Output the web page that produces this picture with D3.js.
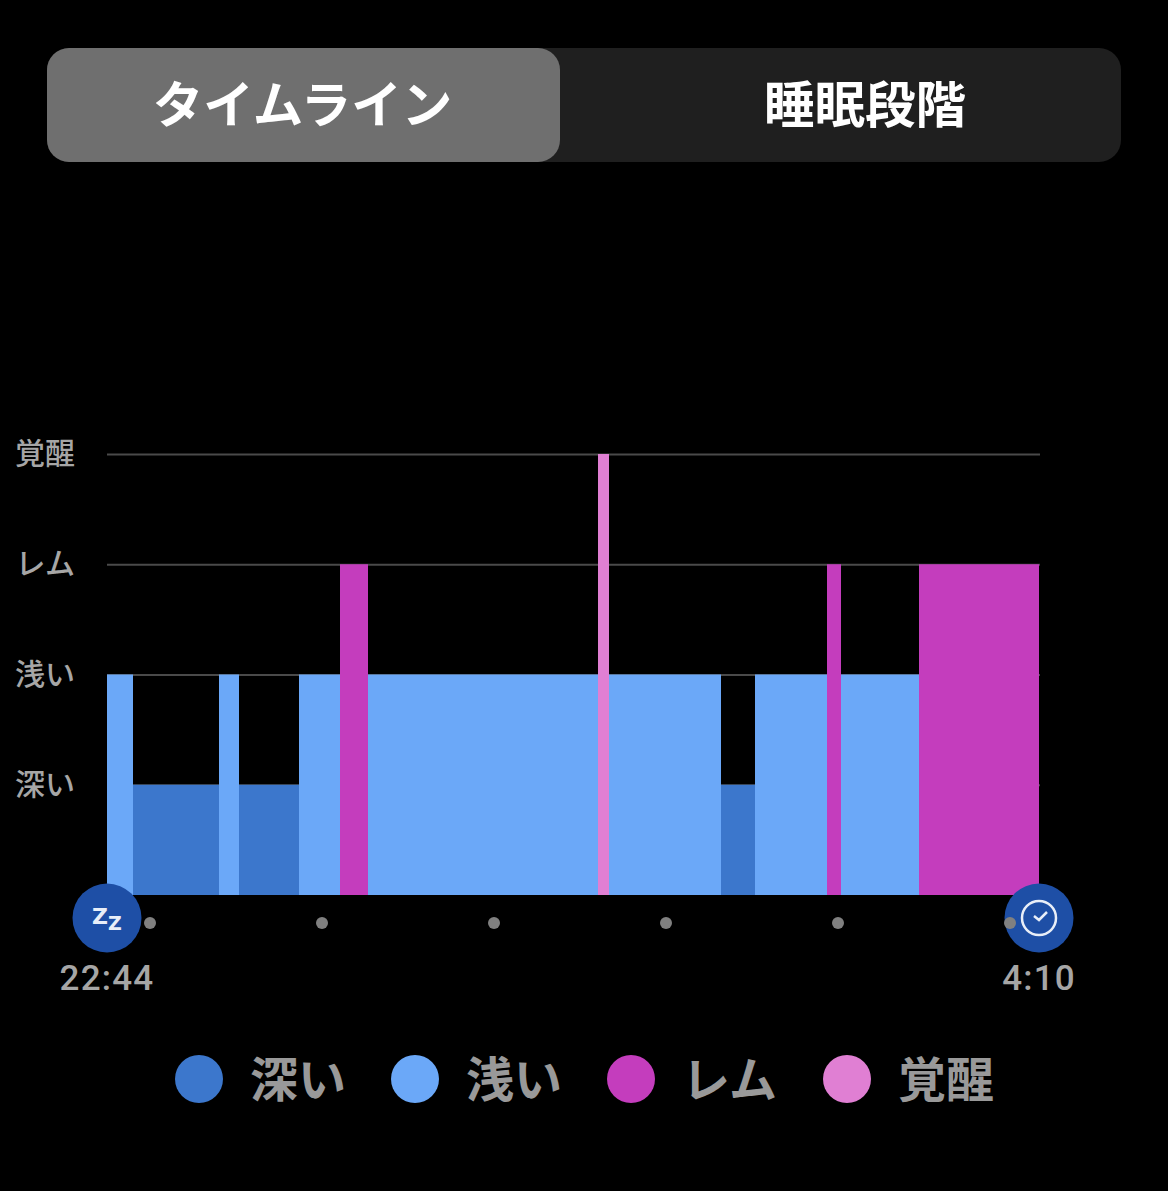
<!DOCTYPE html>
<html lang="ja">
<head>
<meta charset="utf-8">
<script src="https://cdn.jsdelivr.net/npm/d3@7"></script>
<style>
	html, body { margin: 0; padding: 0; background: #000; }
	svg { display: block; }
	text { font-family: "Noto Sans CJK JP", sans-serif; }
</style>
</head>
<body>
<svg id="chart"></svg>
<script>
// sleep stages, bottom to top
const stageNames = ["深い", "浅い", "レム", "覚醒"];
const stageColors = ["#3c77cc", "#6ba8f8", "#c43dbd", "#e07fd3"];
const tabLabels = ["タイムライン", "睡眠段階"];

// minutes after the start of the night, one entry per block
const blockStarts = [0, 9, 39, 46, 67, 81.3, 91, 171.3, 175, 214, 226, 251, 256, 283];
const blockEnds = [9, 39, 46, 67, 81.3, 91, 171.3, 175, 214, 226, 251, 256, 283, 325];
const blockStages = [1, 0, 1, 0, 1, 2, 1, 3, 1, 0, 1, 2, 1, 2];

const hourDots = [15, 75, 135, 195, 255, 315];
const endMinutes = [0, 325];
const endLabels = ["22:44", "4:10"];

const width = 1168;
const height = 1191;
const svg = d3.select("#chart").attr("width", width).attr("height", height);

const x = d3.scaleLinear().domain([0, 325]).rangeRound([107, 1039]);
const y = d3.scaleLinear().domain([0, 4]).range([895, 454]);

// tab switch at the top
svg.append("rect")
	.attr("x", 47).attr("y", 48)
	.attr("width", 1074).attr("height", 114)
	.attr("rx", 22)
	.attr("fill", "#1f1f1f");
svg.append("rect")
	.attr("x", 47).attr("y", 48)
	.attr("width", 513).attr("height", 114)
	.attr("rx", 22)
	.attr("fill", "#6f6f6f");
svg.selectAll(".tab")
	.data(tabLabels)
	.join("text")
	.attr("class", "tab")
	.attr("x", (d, i) => (i === 0 ? 302.5 : 865))
	.attr("y", 123)
	.attr("text-anchor", "middle")
	.attr("font-size", 50.5)
	.attr("font-weight", 700)
	.attr("fill", "#fff")
	.text((d) => d);

// gridlines + stage labels
const yAxis = d3.axisLeft(y)
	.tickValues([1, 2, 3, 4])
	.tickFormat((d) => stageNames[d - 1])
	.tickSize(0)
	.tickPadding(32);
const yAxisG = svg.append("g").attr("transform", "translate(107,0)").call(yAxis);
yAxisG.select(".domain").remove();
yAxisG.selectAll("line")
	.attr("x2", 933)
	.attr("stroke", "#4a4a4a")
	.attr("stroke-width", 2);
yAxisG.selectAll("text")
	.attr("font-size", 30)
	.attr("font-weight", 500)
	.attr("font-family", '"Noto Sans CJK JP", sans-serif')
	.attr("dy", "0.32em")
	.attr("fill", "#a6a6a6");

// sleep blocks
svg.selectAll(".block")
	.data(blockStarts)
	.join("rect")
	.attr("class", "block")
	.attr("x", (d) => x(d))
	.attr("y", (d, i) => y(blockStages[i] + 1))
	.attr("width", (d, i) => x(blockEnds[i]) - x(d))
	.attr("height", (d, i) => y(0) - y(blockStages[i] + 1))
	.attr("fill", (d, i) => stageColors[blockStages[i]]);

// start / end badges
const badgeY = 918;
svg.selectAll(".badge")
	.data(endMinutes)
	.join("circle")
	.attr("class", "badge")
	.attr("cx", (d) => x(d))
	.attr("cy", badgeY)
	.attr("r", 34.5)
	.attr("fill", "#1e4fa6");

svg.selectAll(".hour")
	.data(hourDots)
	.join("circle")
	.attr("class", "hour")
	.attr("cx", (d) => x(d))
	.attr("cy", 923)
	.attr("r", 6)
	.attr("fill", "#808080");

// Zz icon
const zz = svg.append("g").attr("fill", "#e8eef8");
zz.append("text")
	.attr("x", x(0) - 15).attr("y", 924)
	.attr("font-size", 22)
	.style("font-family", '"DejaVu Sans", sans-serif')
	.style("font-weight", "bold")
	.text("Z");
zz.append("text")
	.attr("x", x(0) + 1).attr("y", 930)
	.attr("font-size", 19)
	.style("font-family", '"DejaVu Sans", sans-serif')
	.style("font-weight", "bold")
	.text("Z");

// clock icon
const clock = svg.append("g").attr("transform", `translate(${x(325)},${badgeY})`);
clock.append("circle")
	.attr("r", 17)
	.attr("fill", "none")
	.attr("stroke", "#e8eef8")
	.attr("stroke-width", 2.5);
clock.append("path")
	.attr("d", "M-5,-2 L0,2 L8,-6")
	.attr("fill", "none")
	.attr("stroke", "#e8eef8")
	.attr("stroke-width", 2.5);

svg.selectAll(".time")
	.data(endMinutes)
	.join("text")
	.attr("class", "time")
	.attr("x", (d) => x(d))
	.attr("y", 990)
	.attr("text-anchor", "middle")
	.attr("font-size", 35)
	.attr("font-weight", 500)
	.attr("letter-spacing", 1.2)
	.style("font-family", "Roboto, sans-serif")
	.attr("fill", "#a6a6a6")
	.text((d, i) => endLabels[i]);

// legend
const legendX = d3.scalePoint().domain(stageNames).range([199, 847]);
const legend = svg.selectAll(".legend")
	.data(stageNames)
	.join("g")
	.attr("class", "legend")
	.attr("transform", (d) => `translate(${legendX(d)},1079)`);
legend.append("circle")
	.attr("r", 24)
	.attr("fill", (d, i) => stageColors[i]);
legend.append("text")
	.attr("x", 51)
	.attr("y", 18)
	.attr("font-size", 48)
	.attr("font-weight", 700)
	.attr("fill", "#999")
	.text((d) => d);
</script>
</body>
</html>
